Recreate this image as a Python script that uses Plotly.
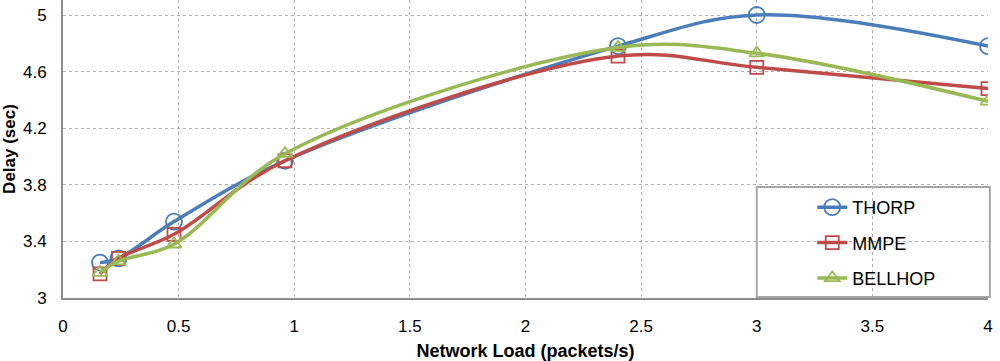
import plotly.graph_objects as go

load = [0.16, 0.24, 0.48, 0.96, 2.4, 3.0, 4.0]
thorp = [3.25, 3.28, 3.54, 3.97, 4.78, 5.0, 4.78]
mmpe = [3.17, 3.28, 3.45, 3.97, 4.71, 4.63, 4.48]
bellhop = [3.18, 3.26, 3.38, 4.02, 4.77, 4.73, 4.39]

series = [
    ("THORP", thorp, "#4A7EBB", "circle-open", 16),
    ("MMPE", mmpe, "#BE4B48", "square-open", 13),
    ("BELLHOP", bellhop, "#98B954", "triangle-up-open", 13),
]

fig = go.Figure()
for i, (name, vals, color, sym, sz) in enumerate(series):
    fig.add_trace(go.Scatter(
        x=load, y=vals, name=name, mode="lines+markers",
        line=dict(color=color, width=3.5, shape="spline", smoothing=1.0),
        marker=dict(symbol=sym, size=sz, color=color, line=dict(width=1.8, color=color)),
        legendgroup=f"g{i}",
    ))

fig.add_shape(type="rect", xref="paper", yref="paper",
              x0=0.750, x1=1.002, y0=0.0034, y1=0.3725,
              line=dict(color="#A6A6A6", width=2), fillcolor="rgba(0,0,0,0)")

fig.update_layout(
    width=1000, height=361,
    margin=dict(l=63, r=12, t=0, b=63),
    paper_bgcolor="white", plot_bgcolor="white",
    font=dict(family="Liberation Sans, Arial, sans-serif", size=17, color="#000000"),
    legend=dict(x=0.81, y=0.366, xanchor="left", yanchor="top",
                bgcolor="rgba(0,0,0,0)", borderwidth=0,
                tracegroupgap=9, font=dict(size=18)),
    xaxis=dict(range=[0, 4], tickvals=[0, 0.5, 1, 1.5, 2, 2.5, 3, 3.5, 4],
               ticktext=["0", "0.5", "1", "1.5", "2", "2.5", "3", "3.5", "4"],
               showgrid=True, gridcolor="#AFAFAF", griddash="dot", gridwidth=1,
               showline=True, linecolor="#8C8C8C", linewidth=2, zeroline=False,
               ticks="", ticklabelstandoff=12, automargin=False,
               ticklabeloverflow="allow",
               title=dict(text="<b>Network Load (packets/s)</b>", font=dict(size=18), standoff=10)),
    yaxis=dict(range=[3, 5.106], tickvals=[3, 3.4, 3.8, 4.2, 4.6, 5],
               ticktext=["3", "3.4", "3.8", "4.2", "4.6", "5"],
               showgrid=True, gridcolor="#AFAFAF", griddash="dot", gridwidth=1,
               showline=True, linecolor="#8C8C8C", linewidth=2, zeroline=False,
               ticks="", ticklabelstandoff=11, automargin=False,
               ticklabeloverflow="allow",
               title=dict(text="<b>Delay (sec)</b>", font=dict(size=17), standoff=12)),
)

fig.write_html("out.html", config={"displayModeBar": False},
               post_script="document.body.style.margin='0';")
